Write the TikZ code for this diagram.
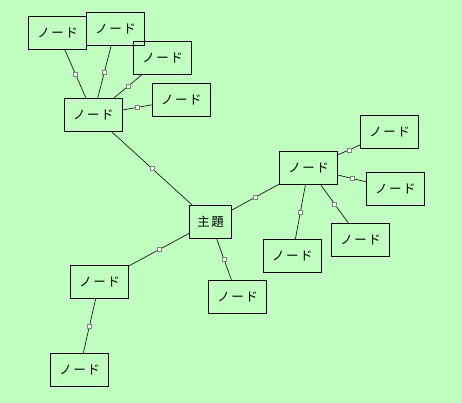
\documentclass[tikz,border=0pt]{standalone}
\usepackage{fontspec}
\newfontfamily\jpfont[LetterSpace=12]{Noto Sans CJK JP}
\definecolor{bgcol}{RGB}{192,255,192}
\begin{document}
\begin{tikzpicture}[x=1pt,y=-1pt,
		topic/.style={draw, line width=0.8pt, minimum width=58pt, minimum height=33pt,
			inner sep=0pt, font=\jpfont\fontsize{12.5}{14}\selectfont},
		link/.style={line width=0.6pt},
		handle/.style={draw=gray, fill=white, line width=0.5pt, minimum size=4pt, inner sep=0pt}]
	\fill [bgcol] (0,0) rectangle (462,403);

	% center
	\node [topic, minimum width=42pt] (main) at (210.5,221.8) {主題};

	% branches
	\node [topic] (p1) at (93.3,115) {ノード};
	\node [topic] (p2) at (308.5,168) {ノード};
	\node [topic] (p3) at (99.5,281.8) {ノード};
	\node [topic] (i) at (237.5,296.8) {ノード};

	% leaves
	\node [topic] (a) at (57.5,33) {ノード};
	\node [topic] (b) at (115.5,28.7) {ノード};
	\node [topic] (c) at (162.5,57.7) {ノード};
	\node [topic] (d) at (181.3,99.8) {ノード};
	\node [topic] (e) at (389.5,131.8) {ノード};
	\node [topic] (f) at (395.3,188.8) {ノード};
	\node [topic] (g) at (360.5,239.8) {ノード};
	\node [topic] (h) at (292.3,255.8) {ノード};
	\node [topic] (j) at (79.5,369.8) {ノード};

	\foreach \from/\to in {main/p1, main/p2, main/p3, main/i,
			p1/a, p1/b, p1/c, p1/d,
			p2/e, p2/f, p2/g, p2/h,
			p3/j} {
		\draw [link] (\from) -- node [handle] {} (\to);
	}
\end{tikzpicture}
\end{document}
